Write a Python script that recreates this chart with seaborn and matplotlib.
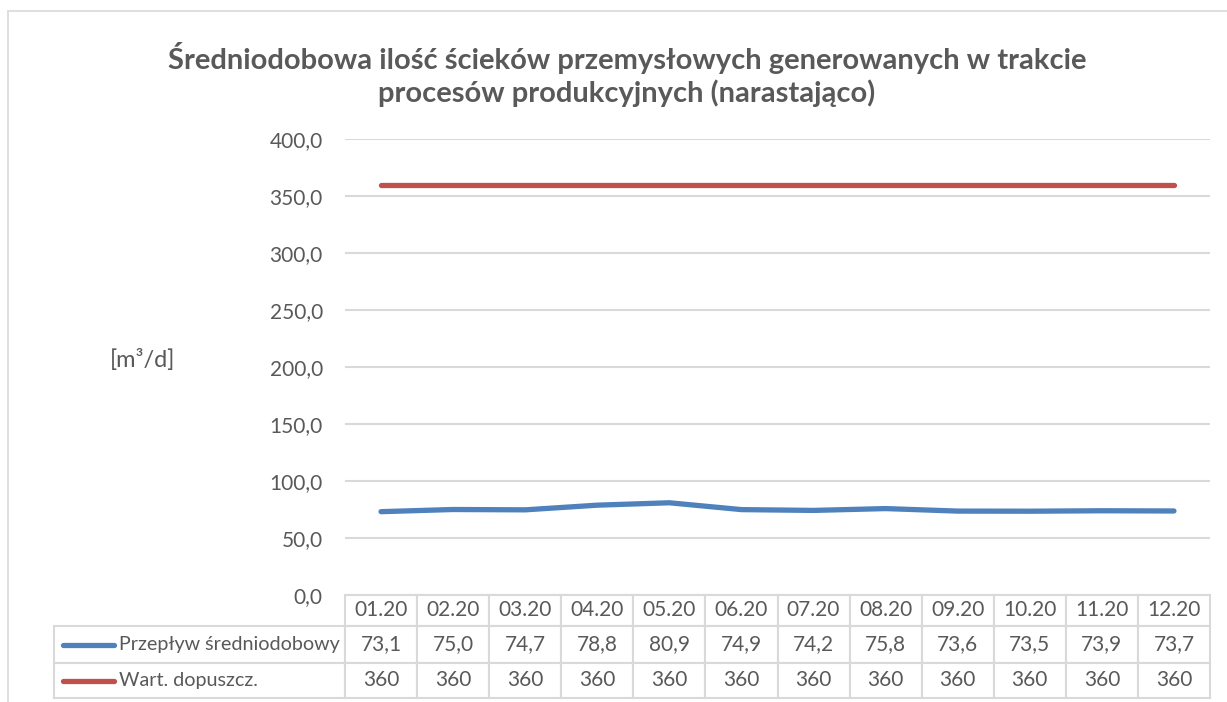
import pandas as pd
import matplotlib.pyplot as plt
import seaborn as sns
from matplotlib.table import Table

# Dane
miesiace = ['01.20', '02.20', '03.20', '04.20', '05.20', '06.20',
            '07.20', '08.20', '09.20', '10.20', '11.20', '12.20']
przeplyw = [73.1, 75.0, 74.7, 78.8, 80.9, 74.9, 74.2, 75.8, 73.6, 73.5, 73.9, 73.7]
dopuszcz = [360, 360, 360, 360, 360, 360, 360, 360, 360, 360, 360, 360]
serie = ['Przepływ średniodobowy', 'Wart. dopuszcz.']
kolory = ['#4F81BD', '#C0504D']
tytul = 'Średniodobowa ilość ścieków przemysłowych generowanych w trakcie\nprocesów produkcyjnych (narastająco)'

szary = '#595959'
siatka = '#d9d9d9'

sns.set_theme(style='white')
plt.rcParams['font.family'] = ['Lato', 'DejaVu Sans']

df = pd.DataFrame({
    'nr': list(range(len(miesiace))) * 2,
    'wartosc': przeplyw + dopuszcz,
    'seria': [serie[0]] * len(miesiace) + [serie[1]] * len(miesiace),
})

W, H = 1227, 702
fig = plt.figure(figsize=(W / 100, H / 100), dpi=100)
ax = fig.add_axes([345 / W, 1 - 595 / H, 865 / W, 456 / H])

sns.lineplot(data=df, x='nr', y='wartosc', hue='seria', palette=dict(zip(serie, kolory)),
             linewidth=3.8, legend=False, solid_capstyle='round', ax=ax)

ax.set_xlim(-0.5, len(miesiace) - 0.5)
ax.set_ylim(0, 400)
ax.set_yticks(range(0, 401, 50))
ax.set_yticklabels([f'{v:.1f}'.replace('.', ',') for v in range(0, 401, 50)],
                   fontsize=15, color=szary)
ax.tick_params(axis='y', length=0, pad=16)
ax.set_xticks([])
ax.set_xlabel('')
ax.set_ylabel('')
ax.yaxis.grid(True, color=siatka, lw=1.5)
ax.set_axisbelow(True)
for s in ax.spines.values():
    s.set_visible(False)

# Tabela danych pod wykresem (jednostki = współrzędne osi)
sz_kol = 1 / len(miesiace)
sz_etyk = 291 / 865
wys = [31 / 456, 37 / 456, 35 / 456]
tekst = [[f'{v:.1f}'.replace('.', ',') for v in przeplyw], [str(v) for v in dopuszcz]]
tab = Table(ax, bbox=[0, -sum(wys), 1, sum(wys)])
for j, m in enumerate(miesiace):
    tab.add_cell(0, j, width=sz_kol, height=wys[0], text=m, loc='center')
for i, (nazwa, wiersz) in enumerate(zip(serie, tekst), start=1):
    c = tab.add_cell(i, -1, width=sz_etyk, height=wys[i], text=nazwa, loc='left')
    c.PAD = 0.222
    for j, t in enumerate(wiersz):
        tab.add_cell(i, j, width=sz_kol, height=wys[i], text=t, loc='center')
tab.auto_set_font_size(False)
tab.set_fontsize(15)
for (r, k), cell in tab.get_celld().items():
    cell.set_edgecolor(siatka)
    cell.set_linewidth(1.5)
    cell.get_text().set_color(szary)
    if k == -1:
        cell.set_fontsize(14.2)
ax.add_table(tab)

# próbki linii w legendzie tabeli
for i, kolor in enumerate(kolory, start=1):
    yy = -(sum(wys[:i]) + wys[i] / 2)
    ax.plot([-282 / 865, -231 / 865], [yy, yy], transform=ax.transAxes, clip_on=False,
            color=kolor, lw=3.8, solid_capstyle='round')

fig.text(143 / W, 1 - 360 / H, '[m³/d]', ha='center', va='center', fontsize=17, color=szary)
fig.text(627 / W, 1 - 42 / H, tytul, ha='center', va='top', fontsize=21,
         fontweight='bold', color=szary, linespacing=1.22)

# ramka obszaru wykresu
fig.add_artist(plt.Line2D([8 / W, 8 / W], [0, 1 - 11 / H], color=siatka, lw=1.2))
fig.add_artist(plt.Line2D([8 / W, 1], [1 - 11 / H, 1 - 11 / H], color=siatka, lw=1.2))

fig.savefig('out.png', dpi=100)
